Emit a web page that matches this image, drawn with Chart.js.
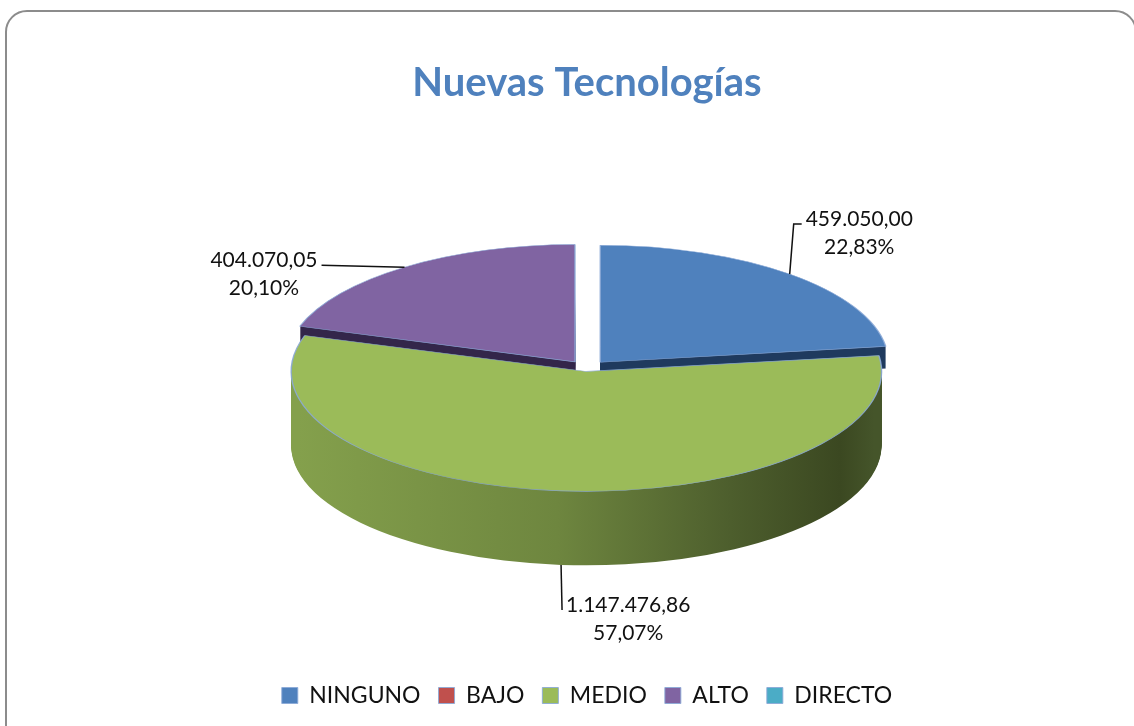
<!DOCTYPE html>
<html>
<head>
<meta charset="utf-8">
<title>Nuevas Tecnologías</title>
<script src="https://cdn.jsdelivr.net/npm/chart.js@4.4.1/dist/chart.umd.min.js"></script>
<style>
  html, body { margin: 0; padding: 0; background: #fff; }
  #frame {
    position: absolute; left: 5px; top: 10px;
    width: 1128px; height: 760px;
    border: 2px solid #8c8c8c; border-radius: 22px;
  }
  #wrap { position: absolute; left: 0; top: 0; width: 1134px; height: 726px; }
</style>
</head>
<body>
<div id="frame"></div>
<div id="wrap"><canvas id="chart" width="1134" height="726"></canvas></div>
<script>
// Data
const categories = ['NINGUNO', 'BAJO', 'MEDIO', 'ALTO', 'DIRECTO'];
const values = [459050.00, 0, 1147476.86, 404070.05, 0];

// Styles
const topColors = ['#4f81bd', '#c0504d', '#9bbb59', '#8064a2', '#4bacc6'];
// side wall shading, [offset, colour] pairs, left to right
const sideShades = [
  [[0, '#1f3a5e'], [1, '#1f3a5e']],
  [[0, '#6b2a28'], [1, '#4a1c1b']],
  [[0, '#84a04c'], [0.45, '#6e863f'], [0.75, '#4d5e2d'], [0.94, '#3b4821'], [1, '#45552a']],
  [[0, '#33264a'], [1, '#33264a']],
  [[0, '#2a6373'], [1, '#1c4450']]
];
const explode = [56, 0, 20, 56, 0];

// Leader line / label placement relative to the slice anchor
const labelLayout = {
  0: { elbow: [4, -50], end: [12, -50], align: 'left' },
  2: { elbow: null, end: [1, 45], align: 'left' },
  3: { elbow: null, end: [-83, -2], align: 'right' }
};

const FONT = 'Lato, "Open Sans", sans-serif';

function formatEs(v) {
  const parts = v.toFixed(2).split('.');
  return parts[0].replace(/\B(?=(\d{3})+(?!\d))/g, '.') + ',' + parts[1];
}

function formatPct(v, total) {
  return (v / total * 100).toFixed(2).replace('.', ',') + '%';
}

// Fake 3D: squash the pie vertically and extrude it downwards
const pie3d = {
  id: 'pie3d',

  explodeShift(arc) {
    const o = (arc.options.offset || 0) / 4;
    const fix = 1 - Math.sin(Math.min(Math.PI, arc.circumference || 0));
    return o + o * fix;
  },

  project(arc, angle, r, lift, opts) {
    const mid = (arc.startAngle + arc.endAngle) / 2;
    const shift = this.explodeShift(arc);
    const ux = Math.cos(mid) * shift + Math.cos(angle) * r;
    const uy = Math.sin(mid) * shift + Math.sin(angle) * r;
    return {
      x: arc.x + ux * opts.scaleX,
      y: arc.y - opts.depth / 2 + uy * opts.scaleY + lift
    };
  },

  squash(ctx, arc, lift, opts) {
    ctx.translate(arc.x, arc.y - opts.depth / 2 + lift);
    ctx.scale(opts.scaleX, opts.scaleY);
    ctx.translate(-arc.x, -arc.y);
  },

  beforeDatasetsDraw(chart, args, opts) {
    const ctx = chart.ctx;
    const arcs = chart.getDatasetMeta(0).data;
    const mid = a => (a.startAngle + a.endAngle) / 2;

    // back slices first
    const order = arcs.map((a, i) => i)
      .filter(i => values[i] > 0)
      .sort((a, b) => Math.sin(mid(arcs[a])) - Math.sin(mid(arcs[b])));

    order.forEach(i => {
      const arc = arcs[i];
      const front = Math.sin(mid(arc)) > 0;
      const depth = front ? opts.depth : opts.backDepth;
      const R = arc.outerRadius;

      const grad = ctx.createLinearGradient(arc.x - R, 0, arc.x + R, 0);
      sideShades[i].forEach(s => grad.addColorStop(s[0], s[1]));

      const bg = arc.options.backgroundColor;
      const bw = arc.options.borderWidth;
      arc.options.backgroundColor = grad;
      arc.options.borderWidth = 0;
      for (let d = depth; d >= 1; d--) {
        ctx.save();
        this.squash(ctx, arc, d, opts);
        arc.draw(ctx);
        ctx.restore();
      }
      arc.options.backgroundColor = bg;
      arc.options.borderWidth = bw;

      ctx.save();
      this.squash(ctx, arc, 0, opts);
      arc.draw(ctx);
      ctx.restore();
    });
    return false;
  },

  afterDraw(chart, args, opts) {
    const ctx = chart.ctx;
    const arcs = chart.getDatasetMeta(0).data;
    const total = values.reduce((s, v) => s + v, 0);

    ctx.save();
    ctx.font = '21px ' + FONT;
    ctx.fillStyle = '#111';
    ctx.strokeStyle = '#111';
    ctx.lineWidth = 1.5;
    ctx.textBaseline = 'middle';

    arcs.forEach((arc, i) => {
      const lay = labelLayout[i];
      if (!lay || values[i] <= 0) return;
      const m = (arc.startAngle + arc.endAngle) / 2;
      const lift = Math.sin(m) > 0 ? opts.depth : 0;
      const a = this.project(arc, m, arc.outerRadius, lift, opts);
      const end = { x: a.x + lay.end[0], y: a.y + lay.end[1] };

      ctx.beginPath();
      ctx.moveTo(a.x, a.y);
      if (lay.elbow) ctx.lineTo(a.x + lay.elbow[0], a.y + lay.elbow[1]);
      ctx.lineTo(end.x, end.y);
      ctx.stroke();

      const line1 = formatEs(values[i]);
      const line2 = formatPct(values[i], total);
      const w1 = ctx.measureText(line1).width;
      const cx = lay.align === 'left' ? end.x + 4 + w1 / 2 : end.x - 4 - w1 / 2;
      const y1 = end.y - 5;
      ctx.textAlign = 'center';
      ctx.fillText(line1, cx, y1);
      ctx.fillText(line2, cx, y1 + 28);
    });
    ctx.restore();
  }
};

new Chart(document.getElementById('chart'), {
  type: 'pie',
  data: {
    labels: categories,
    datasets: [{
      data: values,
      backgroundColor: topColors,
      borderColor: 'rgba(140, 170, 215, 0.9)',
      borderWidth: 1,
      offset: explode,
      radius: 200
    }]
  },
  options: {
    responsive: false,
    animation: false,
    layout: { padding: { left: 40, right: 0, top: 0, bottom: 9 } },
    plugins: {
      title: {
        display: true,
        text: 'Nuevas Tecnologías',
        color: '#4f81bd',
        font: { family: FONT, size: 40, weight: 'bold' },
        padding: { top: 59, bottom: 38 }
      },
      legend: {
        position: 'bottom',
        labels: {
          boxWidth: 16,
          boxHeight: 16,
          padding: 18,
          color: '#111',
          font: { family: FONT, size: 23 }
        }
      },
      tooltip: { enabled: false },
      pie3d: { scaleX: 1.44, scaleY: 0.585, depth: 74, backDepth: 22 }
    }
  },
  plugins: [pie3d]
});
</script>
</body>
</html>
